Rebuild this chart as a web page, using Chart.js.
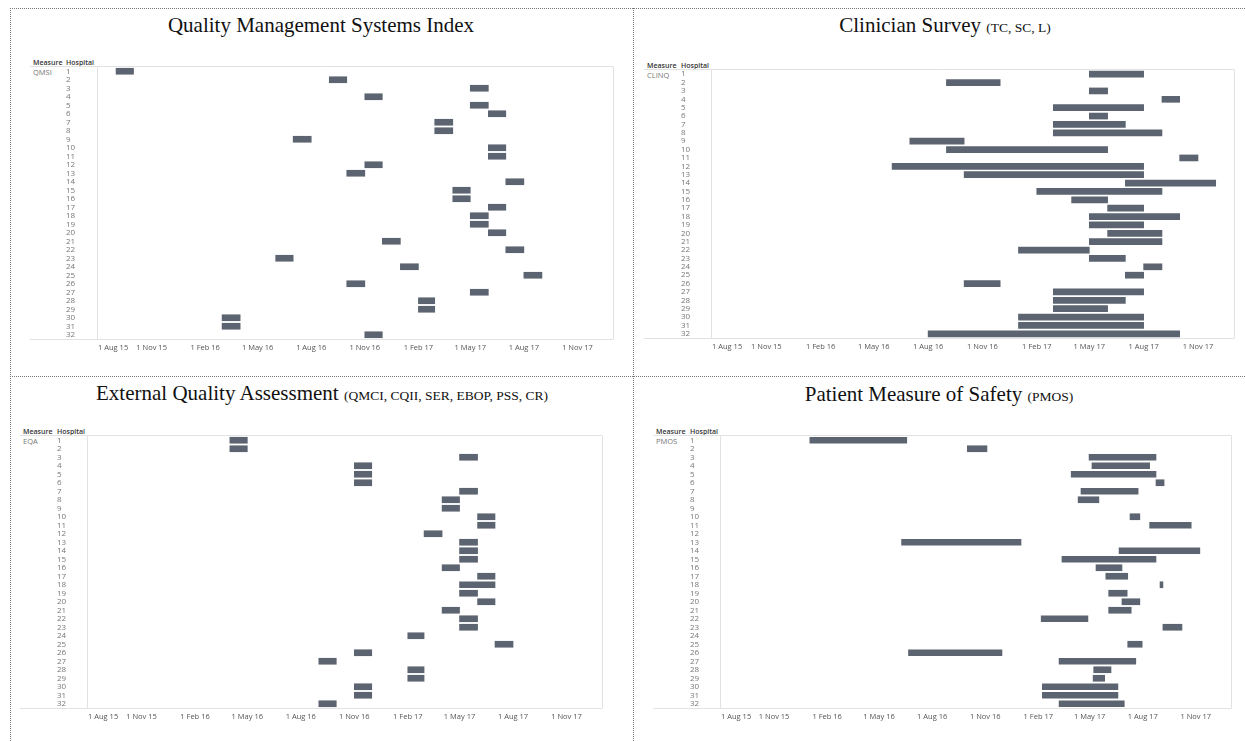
<!DOCTYPE html>
<html>
<head>
<meta charset="utf-8">
<script src="https://cdn.jsdelivr.net/npm/chart.js@4.4.0/dist/chart.umd.min.js"></script>
<style>
  body { margin: 0; width: 1245px; height: 741px; background: #fff; position: relative; overflow: hidden; font-family: "Open Sans", sans-serif; }
  .dot { position: absolute; border: 0 dotted #777; }
  .title { position: absolute; font-family: "Liberation Serif", "Times New Roman", serif; font-size: 21px; line-height: 21px; color: #111; white-space: nowrap; transform: translateX(-50%); }
  .title small { font-size: 13.5px; }
  .hdr { position: absolute; font-size: 7px; line-height: 8px; font-weight: 600; color: #333; white-space: nowrap; }
  .meas { position: absolute; font-size: 7.5px; line-height: 8px; color: #777; }
  .box { position: absolute; }
</style>
</head>
<body>
<div class="dot" style="left:10px;top:8px;width:1235px;border-top-width:1px"></div>
<div class="dot" style="left:10px;top:8px;height:733px;border-left-width:1px"></div>
<div class="dot" style="left:633px;top:8px;height:733px;border-left-width:1px"></div>
<div class="dot" style="left:10px;top:376px;width:1235px;border-top-width:1px"></div>

<div class="title" style="left:321px;top:15px">Quality Management Systems Index</div>
<div class="title" style="left:945px;top:15px">Clinician Survey <small>(TC, SC, L)</small></div>
<div class="title" style="left:322px;top:383px">External Quality Assessment <small>(QMCI, CQII, SER, EBOP, PSS, CR)</small></div>
<div class="title" style="left:939px;top:384px">Patient Measure of Safety <small>(PMOS)</small></div>

<div class="hdr" style="left:33px;top:59px">Measure</div>
<div class="hdr" style="left:66px;top:59px">Hospital</div>
<div class="meas" style="left:33px;top:68px">QMSI</div>

<div class="hdr" style="left:647px;top:62px">Measure</div>
<div class="hdr" style="left:681px;top:62px">Hospital</div>
<div class="meas" style="left:647px;top:71px">CLINQ</div>

<div class="hdr" style="left:23px;top:428px">Measure</div>
<div class="hdr" style="left:57px;top:428px">Hospital</div>
<div class="meas" style="left:23px;top:437px">EQA</div>

<div class="hdr" style="left:656px;top:428px">Measure</div>
<div class="hdr" style="left:690px;top:428px">Hospital</div>
<div class="meas" style="left:656px;top:437px">PMOS</div>

<div class="box" id="b1"><canvas id="c1"></canvas></div>
<div class="box" id="b2"><canvas id="c2"></canvas></div>
<div class="box" id="b3"><canvas id="c3"></canvas></div>
<div class="box" id="b4"><canvas id="c4"></canvas></div>

<script>
// hospitals down the y axis
const hospitals = ['1','2','3','4','5','6','7','8','9','10','11','12','13','14','15','16',
  '17','18','19','20','21','22','23','24','25','26','27','28','29','30','31','32'];

// x axis range and tick dates
const axisStart = '2015-08-01';
const axisEnd = '2018-01-01';
const tickDates = ['2015-08-01','2015-11-01','2016-02-01','2016-05-01','2016-08-01',
  '2016-11-01','2017-02-01','2017-05-01','2017-08-01','2017-11-01'];

// [start, end] per hospital, null = no data
const qmsi = [
  ['2015-09-01','2015-10-01'], ['2016-09-01','2016-10-01'], ['2017-05-01','2017-06-01'], ['2016-11-01','2016-12-01'],
  ['2017-05-01','2017-06-01'], ['2017-06-01','2017-07-01'], ['2017-03-01','2017-04-01'], ['2017-03-01','2017-04-01'],
  ['2016-07-01','2016-08-01'], ['2017-06-01','2017-07-01'], ['2017-06-01','2017-07-01'], ['2016-11-01','2016-12-01'],
  ['2016-10-01','2016-11-01'], ['2017-07-01','2017-08-01'], ['2017-04-01','2017-05-01'], ['2017-04-01','2017-05-01'],
  ['2017-06-01','2017-07-01'], ['2017-05-01','2017-06-01'], ['2017-05-01','2017-06-01'], ['2017-06-01','2017-07-01'],
  ['2016-12-01','2017-01-01'], ['2017-07-01','2017-08-01'], ['2016-06-01','2016-07-01'], ['2017-01-01','2017-02-01'],
  ['2017-08-01','2017-09-01'], ['2016-10-01','2016-11-01'], ['2017-05-01','2017-06-01'], ['2017-02-01','2017-03-01'],
  ['2017-02-01','2017-03-01'], ['2016-03-01','2016-04-01'], ['2016-03-01','2016-04-01'], ['2016-11-01','2016-12-01']
];

const clinq = [
  ['2017-05-01','2017-08-01'], ['2016-09-01','2016-12-01'], ['2017-05-01','2017-06-01'], ['2017-09-01','2017-10-01'],
  ['2017-03-01','2017-08-01'], ['2017-05-01','2017-06-01'], ['2017-03-01','2017-07-01'], ['2017-03-01','2017-09-01'],
  ['2016-07-01','2016-10-01'], ['2016-09-01','2017-06-01'], ['2017-10-01','2017-11-01'], ['2016-06-01','2017-08-01'],
  ['2016-10-01','2017-08-01'], ['2017-07-01','2017-12-01'], ['2017-02-01','2017-09-01'], ['2017-04-01','2017-06-01'],
  ['2017-06-01','2017-08-01'], ['2017-05-01','2017-10-01'], ['2017-05-01','2017-08-01'], ['2017-06-01','2017-09-01'],
  ['2017-05-01','2017-09-01'], ['2017-01-01','2017-05-01'], ['2017-05-01','2017-07-01'], ['2017-08-01','2017-09-01'],
  ['2017-07-01','2017-08-01'], ['2016-10-01','2016-12-01'], ['2017-03-01','2017-08-01'], ['2017-03-01','2017-07-01'],
  ['2017-03-01','2017-06-01'], ['2017-01-01','2017-08-01'], ['2017-01-01','2017-08-01'], ['2016-08-01','2017-10-01']
];

const eqa = [
  ['2016-04-01','2016-05-01'], ['2016-04-01','2016-05-01'], ['2017-05-01','2017-06-01'], ['2016-11-01','2016-12-01'],
  ['2016-11-01','2016-12-01'], ['2016-11-01','2016-12-01'], ['2017-05-01','2017-06-01'], ['2017-04-01','2017-05-01'],
  ['2017-04-01','2017-05-01'], ['2017-06-01','2017-07-01'], ['2017-06-01','2017-07-01'], ['2017-03-01','2017-04-01'],
  ['2017-05-01','2017-06-01'], ['2017-05-01','2017-06-01'], ['2017-05-01','2017-06-01'], ['2017-04-01','2017-05-01'],
  ['2017-06-01','2017-07-01'], ['2017-05-01','2017-07-01'], ['2017-05-01','2017-06-01'], ['2017-06-01','2017-07-01'],
  ['2017-04-01','2017-05-01'], ['2017-05-01','2017-06-01'], ['2017-05-01','2017-06-01'], ['2017-02-01','2017-03-01'],
  ['2017-07-01','2017-08-01'], ['2016-11-01','2016-12-01'], ['2016-09-01','2016-10-01'], ['2017-02-01','2017-03-01'],
  ['2017-02-01','2017-03-01'], ['2016-11-01','2016-12-01'], ['2016-11-01','2016-12-01'], ['2016-09-01','2016-10-01']
];

const pmos = [
  ['2016-01-02','2016-06-18'], ['2016-10-01','2016-11-04'], ['2017-04-30','2017-08-24'], ['2017-05-05','2017-08-13'],
  ['2017-03-30','2017-08-24'], ['2017-08-24','2017-09-07'], ['2017-04-16','2017-07-24'], ['2017-04-11','2017-05-17'],
  null, ['2017-07-10','2017-07-27'], ['2017-08-13','2017-10-24'], null,
  ['2016-06-09','2017-01-02'], ['2017-06-21','2017-11-08'], ['2017-03-14','2017-08-24'], ['2017-05-12','2017-06-26'],
  ['2017-05-29','2017-07-06'], ['2017-08-31','2017-09-05'], ['2017-06-03','2017-07-05'], ['2017-06-26','2017-07-27'],
  ['2017-06-03','2017-07-12'], ['2017-02-06','2017-04-28'], ['2017-09-05','2017-10-08'], null,
  ['2017-07-06','2017-07-31'], ['2016-06-21','2016-11-30'], ['2017-03-09','2017-07-20'], ['2017-05-08','2017-06-07'],
  ['2017-05-07','2017-05-27'], ['2017-02-08','2017-06-19'], ['2017-02-08','2017-06-19'], ['2017-03-09','2017-06-30']
];

const barColor = '#5b6470';
const monthNames = ['Jan','Feb','Mar','Apr','May','Jun','Jul','Aug','Sep','Oct','Nov','Dec'];
const xMin = Date.parse(axisStart);
const xMax = Date.parse(axisEnd);
const tickValues = tickDates.map(d => Date.parse(d));

function fmtTick(v) {
  const d = new Date(v);
  return d.getUTCDate() + ' ' + monthNames[d.getUTCMonth()] + ' ' + String(d.getUTCFullYear()).slice(2);
}

// light grey box round the plot, top and bottom lines run under the label columns
const framePlugin = {
  id: 'frame',
  beforeDatasetsDraw(chart) {
    const {ctx, chartArea: a} = chart;
    ctx.save();
    ctx.strokeStyle = '#e2e2e2';
    ctx.lineWidth = 1;
    ctx.beginPath();
    ctx.moveTo(0, Math.round(a.top) - 0.5); ctx.lineTo(a.right + 0.5, Math.round(a.top) - 0.5);
    ctx.moveTo(0, Math.round(a.bottom) + 0.5); ctx.lineTo(a.right + 0.5, Math.round(a.bottom) + 0.5);
    ctx.moveTo(Math.round(a.left) - 0.5, a.top); ctx.lineTo(Math.round(a.left) - 0.5, a.bottom);
    ctx.moveTo(Math.round(a.right) + 0.5, a.top); ctx.lineTo(Math.round(a.right) + 0.5, a.bottom);
    ctx.stroke();
    ctx.restore();
  }
};

const panels = [
  {id: 1, rows: qmsi,  lineLeft: 30,  hospX: 66,  plotLeft: 98,  plotRight: 613,  plotTop: 67,  plotBottom: 339},
  {id: 2, rows: clinq, lineLeft: 644, hospX: 681, plotLeft: 712, plotRight: 1234, plotTop: 70,  plotBottom: 338},
  {id: 3, rows: eqa,   lineLeft: 20,  hospX: 57,  plotLeft: 88,  plotRight: 602,  plotTop: 436, plotBottom: 708},
  {id: 4, rows: pmos,  lineLeft: 653, hospX: 690, plotLeft: 721, plotRight: 1231, plotTop: 436, plotBottom: 708}
];

const padTop = 6, axisH = 22, padRight = 4;

panels.forEach(p => {
  const box = document.getElementById('b' + p.id);
  box.style.left = p.lineLeft + 'px';
  box.style.top = (p.plotTop - padTop) + 'px';
  box.style.width = (p.plotRight - p.lineLeft + padRight) + 'px';
  box.style.height = (p.plotBottom - p.plotTop + padTop + axisH) + 'px';

  new Chart(document.getElementById('c' + p.id), {
    type: 'bar',
    data: {
      labels: hospitals,
      datasets: [{
        data: p.rows.map(r => r ? [Date.parse(r[0]), Date.parse(r[1])] : null),
        backgroundColor: barColor,
        borderWidth: 0,
        barThickness: 6
      }]
    },
    options: {
      indexAxis: 'y',
      responsive: true,
      maintainAspectRatio: false,
      animation: false,
      layout: {padding: {left: p.hospX - p.lineLeft, top: padTop, right: padRight, bottom: 0}},
      plugins: {
        legend: {display: false},
        tooltip: {enabled: false},
        title: {display: false}
      },
      scales: {
        x: {
          type: 'linear',
          min: xMin,
          max: xMax,
          grid: {display: false, drawTicks: false},
          border: {display: false},
          afterBuildTicks: s => { s.ticks = tickValues.concat([xMax]).map(v => ({value: v})); },
          afterFit: s => { s.height = axisH; },
          ticks: {
            align: 'inner',
            autoSkip: false,
            maxRotation: 0,
            minRotation: 0,
            padding: 4,
            color: '#555',
            font: {family: 'Open Sans', size: 7.5},
            callback: v => v === xMax ? '' : fmtTick(v)
          }
        },
        y: {
          type: 'category',
          grid: {display: false, drawTicks: false},
          border: {display: false},
          afterFit: s => { s.width = p.plotLeft - p.hospX; },
          ticks: {
            crossAlign: 'far',
            padding: 0,
            autoSkip: false,
            color: '#777',
            font: {family: 'Open Sans', size: 8}
          }
        }
      }
    },
    plugins: [framePlugin]
  });
});
</script>
</body>
</html>
